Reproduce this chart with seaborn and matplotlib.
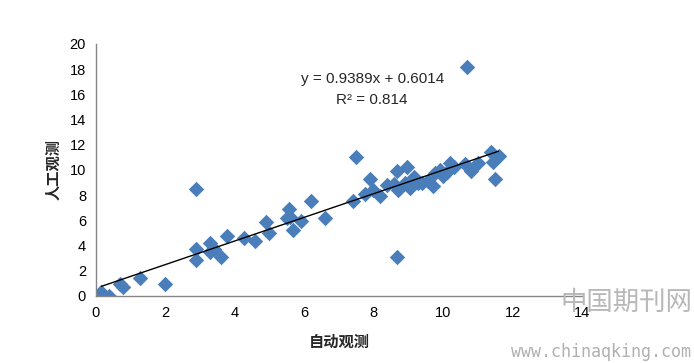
import numpy as np
import pandas as pd
import matplotlib
matplotlib.use("Agg")
import matplotlib.pyplot as plt
import seaborn as sns

auto_obs = [0.16, 0.37, 0.69, 0.79, 1.27, 1.99, 2.88, 2.88, 2.88, 3.28, 3.30, 3.40, 3.59,
            3.78, 4.26, 4.58, 4.89, 4.98, 5.49, 5.57, 5.59, 5.68, 5.90, 6.18, 6.60, 7.39,
            7.48, 7.75, 7.88, 7.99, 8.18, 8.37, 8.57, 8.68, 8.68, 8.71, 8.90, 8.97, 9.05,
            9.16, 9.26, 9.38, 9.55, 9.70, 9.77, 9.91, 10.00, 10.10, 10.20, 10.30, 10.63,
            10.68, 10.80, 10.99, 11.37, 11.43, 11.50, 11.59]
manual_obs = [0.34, 0.02, 0.93, 0.74, 1.45, 0.93, 8.47, 3.70, 2.86, 4.18, 3.52, 3.73, 3.07,
              4.76, 4.58, 4.37, 5.87, 5.02, 6.16, 6.88, 6.29, 5.24, 5.95, 7.56, 6.21, 7.54,
              11.06, 8.10, 9.26, 8.41, 7.94, 8.81, 8.86, 9.95, 3.07, 8.41, 8.94, 10.20, 8.55,
              9.47, 8.99, 8.94, 9.10, 8.73, 9.74, 10.00, 9.52, 9.80, 10.58, 10.26, 10.48,
              18.20, 9.95, 10.53, 11.45, 10.66, 9.26, 11.11]
slope = 0.9389
intercept = 0.6014
r2 = 0.814

df = pd.DataFrame({"auto": auto_obs, "manual": manual_obs})
xs = np.array([df["auto"].min(), df["auto"].max()])
trend = pd.DataFrame({"auto": xs, "manual": slope * xs + intercept})

sns.set_style("white")
plt.rcParams['font.family'] = ['Noto Sans CJK SC', 'DejaVu Sans']

fig = plt.figure(figsize=(6.94, 3.63), dpi=100)
ax = fig.add_axes([0.138, 0.185, 0.701, 0.694])

sns.scatterplot(data=df, x="auto", y="manual", marker="D", s=62, color="#4a7ebb",
                edgecolor="#4a7ebb", linewidth=0, ax=ax, zorder=2)
sns.lineplot(data=trend, x="auto", y="manual", color="black", linewidth=1.0, ax=ax, zorder=3)

ax.set_xlim(0, 14)
ax.set_ylim(0, 20)
ax.set_xticks(range(0, 15, 2))
ax.set_yticks(range(0, 21, 2))
for side in ["top", "right"]:
    ax.spines[side].set_visible(False)
for side in ["left", "bottom"]:
    ax.spines[side].set_color("#868686")
    ax.spines[side].set_linewidth(1)
ax.tick_params(axis="both", direction="out", length=4, width=1, color="#868686",
               labelsize=10.5, labelcolor="black", pad=3)
for lab in ax.get_xticklabels() + ax.get_yticklabels():
    lab.set_family(["Liberation Sans", "DejaVu Sans"])

ax.set_xlabel("自动观测", fontsize=11, fontweight="bold", labelpad=10)
ax.set_ylabel("人工观测", fontsize=11, fontweight="bold", labelpad=6)

ax.text(0.57, 0.86, f"y = {slope}x + {intercept}", transform=ax.transAxes,
        ha="center", va="center", fontsize=11, family=["Liberation Sans", "DejaVu Sans"])
ax.text(0.567, 0.777, f"R² = {r2}", transform=ax.transAxes,
        ha="center", va="center", fontsize=11, family=["Liberation Sans", "DejaVu Sans"])

# watermark
fig.text(0.997, 0.168, "中国期刊网", ha="right", va="center", fontsize=19, color="#b8b8b8")
fig.text(0.995, 0.03, "www.chinaqking.com", ha="right", va="center", fontsize=12,
         color="#b0b0b0", family=["DejaVu Sans Mono"])

fig.savefig("out.png", dpi=100)
